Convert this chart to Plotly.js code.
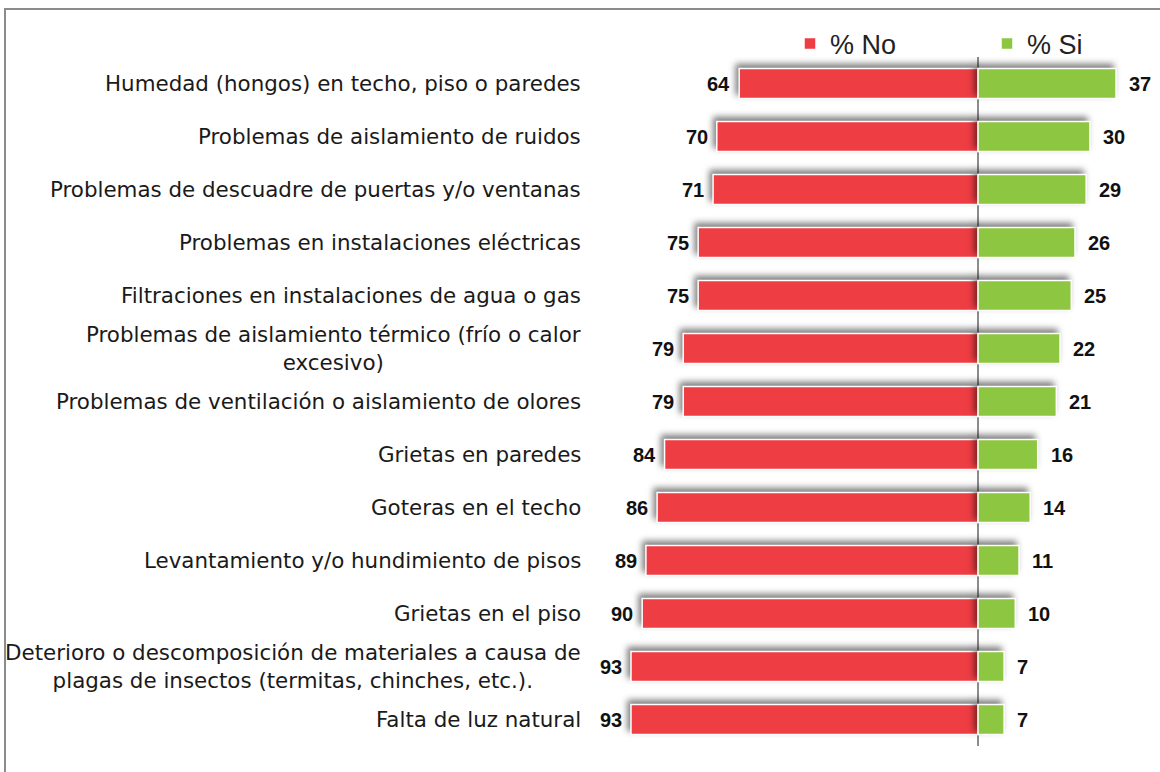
<!DOCTYPE html>
<html>
<head>
<meta charset="utf-8">
<script src="https://cdn.plot.ly/plotly-3.0.1.min.js"></script>
<style>
html,body{margin:0;padding:0;background:#fff;}
#wrap{position:relative;width:1160px;height:772px;}
#chart{width:1160px;height:772px;}
#frame{position:absolute;left:4px;top:8px;width:1200px;height:800px;border-left:2px solid #8c8c8c;border-top:2px solid #8c8c8c;pointer-events:none;}
.trace.bars path{filter:drop-shadow(-3px -4px 3px rgba(0,0,0,0.5));}
</style>
</head>
<body>
<div id="wrap"><div id="chart"></div><div id="frame"></div></div>
<script>
const categories = [
  "Humedad (hongos) en techo, piso o paredes",
  "Problemas de aislamiento de ruidos",
  "Problemas de descuadre de puertas y/o ventanas",
  "Problemas en instalaciones eléctricas",
  "Filtraciones en instalaciones de agua o gas",
  "Problemas de aislamiento térmico (frío o calor<br>excesivo)",
  "Problemas de ventilación o aislamiento de olores",
  "Grietas en paredes",
  "Goteras en el techo",
  "Levantamiento y/o hundimiento de pisos",
  "Grietas en el piso",
  "Deterioro o descomposición de materiales a causa de<br>plagas de insectos (termitas, chinches, etc.).",
  "Falta de luz natural"
];
const pctNo = [64, 70, 71, 75, 75, 79, 79, 84, 86, 89, 90, 93, 93];
const pctSi = [37, 30, 29, 26, 25, 22, 21, 16, 14, 11, 10, 7, 7];
const seriesNames = ["% No", "% Si"];

const RED = "#EE3D43", GREEN = "#8DC641";
const W = 1160, H = 772, ML = 600, MR = 10, MT = 57, MB = 26;
const plotW = W - ML - MR;

const traces = [
  {type:"bar", orientation:"h", name:seriesNames[0], y:categories, x:pctNo.map(v=>-v),
   marker:{color:RED, line:{color:"#ffffff", width:1.5}}, hoverinfo:"skip"},
  {type:"bar", orientation:"h", name:seriesNames[1], y:categories, x:pctSi,
   marker:{color:GREEN, line:{color:"#ffffff", width:1.5}}, hoverinfo:"skip"}
];

const valFont = {family:"Liberation Sans, Arial, sans-serif", size:20, color:"#111111"};
const annotations = [];
categories.forEach((c,i)=>{
  annotations.push({xref:"paper", yref:"y", x:(583-ML)/plotW, y:c, text:c, showarrow:false,
    xanchor:"right", yanchor:"middle", align:"center",
    font:{family:"DejaVu Sans, Verdana, sans-serif", size:21.4, color:"#1a1a1a"}});
  annotations.push({xref:"x", yref:"y", x:-pctNo[i], y:c, text:"<b>"+pctNo[i]+"</b>", showarrow:false,
    xanchor:"right", yanchor:"middle", xshift:-7, font:valFont});
  annotations.push({xref:"x", yref:"y", x:pctSi[i], y:c, text:"<b>"+pctSi[i]+"</b>", showarrow:false,
    xanchor:"left", yanchor:"middle", xshift:11, font:valFont});
});

const layout = {
  width:W, height:H,
  margin:{l:ML, r:MR, t:MT, b:MB, autoexpand:false},
  paper_bgcolor:"#ffffff", plot_bgcolor:"#ffffff",
  barmode:"relative", bargap:0.43,
  showlegend:true,
  legend:{orientation:"h", x:(790-ML)/plotW, xanchor:"left", y:(H-MB-44)/(H-MT-MB), yanchor:"middle",
    entrywidth:152, entrywidthmode:"pixels", font:{family:"Liberation Sans, Arial, sans-serif", size:27, color:"#222222"},
    bgcolor:"rgba(0,0,0,0)", traceorder:"normal"},
  xaxis:{range:[-101.3, 46.1], showgrid:false, showticklabels:false, ticks:"", zeroline:true,
    zerolinecolor:"#8c8c8c", zerolinewidth:1.5, fixedrange:true},
  yaxis:{type:"category", autorange:"reversed", showticklabels:false, showgrid:false, ticks:"", zeroline:false, fixedrange:true},
  annotations:annotations
};

Plotly.newPlot("chart", traces, layout, {displayModeBar:false, staticPlot:true});
</script>
</body>
</html>
